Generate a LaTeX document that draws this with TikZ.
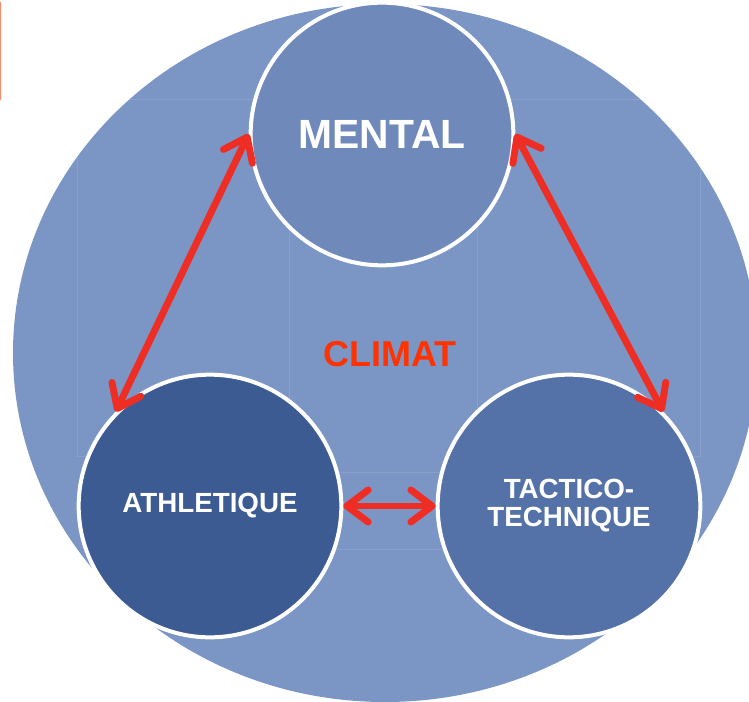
\documentclass[tikz,border=0pt]{standalone}
\usepackage{fontspec}
\setmainfont{Liberation Sans}
\usepackage{xcolor}
\usepackage{tikz}
\usetikzlibrary{arrows.meta,shapes}

\definecolor{climatbg}{HTML}{7B96C5}
\definecolor{mentalbg}{HTML}{6F89BA}
\definecolor{athbg}{HTML}{3C5B93}
\definecolor{tacbg}{HTML}{5472A8}
\definecolor{linkred}{HTML}{EE2D24}
\definecolor{climatred}{HTML}{FF3300}
\definecolor{edgeorange}{HTML}{FF8866}

\begin{document}
\begin{tikzpicture}[x=0.75pt, y=-0.75pt,
  pole/.style={circle, draw=white, line width=3pt, minimum size=197pt, inner sep=0pt, text=white, font=\bfseries, align=center},
  link/.style={line width=5.2pt, linkred, {Straight Barb[length=16pt, width=24pt, round]}-{Straight Barb[length=16pt, width=24pt, round]}},
  ghost/.style={draw=white, draw opacity=0.1, line width=0.75pt}]

\useasboundingbox (0,0) rectangle (749,702);
\fill[white] (0,0) rectangle (749,702);

% fond
\fill[climatbg] (385,353) ellipse [x radius=372, y radius=349];
\fill[edgeorange] (0,2) rectangle (1.4,100);

% cadres
\draw[ghost] (77,100) rectangle (289,456);
\draw[ghost] (477,100) rectangle (700,456);
\draw[ghost] (303,472) rectangle (474,549);

\node[pole, fill=mentalbg, font=\bfseries\fontsize{30.6pt}{36pt}\selectfont] (men) at (382,134) {MENTAL};
\node[pole, fill=athbg, font=\bfseries\fontsize{20.8pt}{21pt}\selectfont] (ath) at (210,506) {ATHLETIQUE};
\node[pole, fill=tacbg, font=\bfseries\fontsize{20.8pt}{21pt}\selectfont] (tac) at (569,506) {TACTICO-\\TECHNIQUE};

\node[text=climatred, font=\bfseries\fontsize{27pt}{30pt}\selectfont] (climat) at (390,354) {CLIMAT};

\path
(ath.135) edge[link] (men.180)
(men.0) edge[link] (tac.45)
(ath.east) edge[link] (tac.west);

\end{tikzpicture}
\end{document}
